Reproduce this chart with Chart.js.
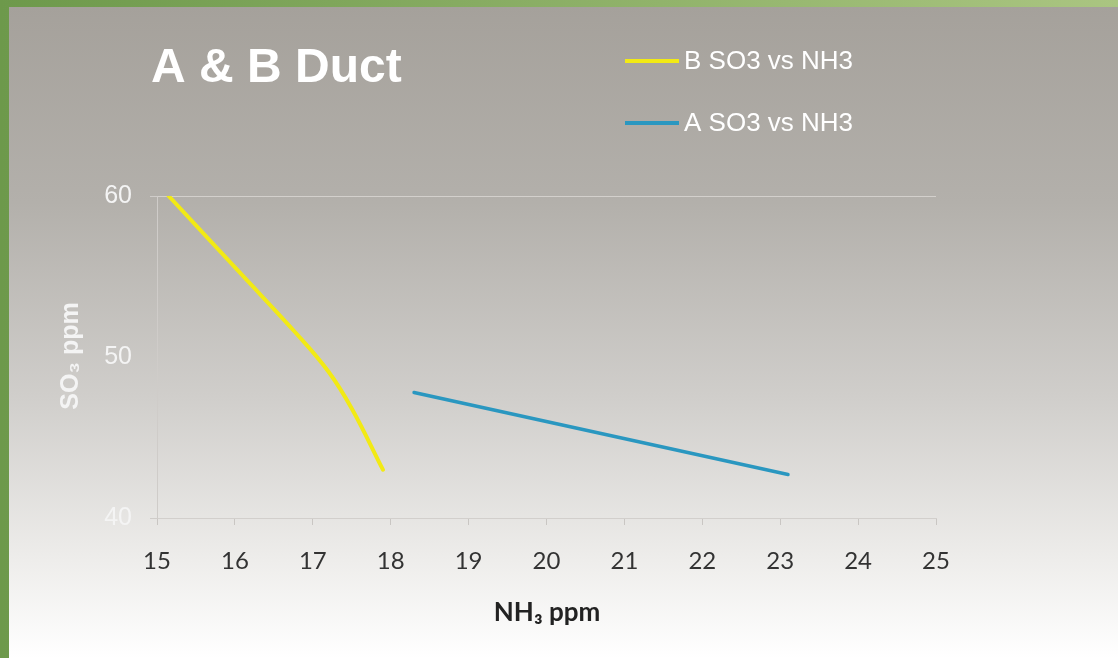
<!DOCTYPE html>
<html>
<head>
<meta charset="utf-8">
<script src="https://cdn.jsdelivr.net/npm/chart.js@4.4.1/dist/chart.umd.min.js"></script>
<style>
html,body{margin:0;padding:0;background:#fff;}
canvas{display:block;}
</style>
</head>
<body>
<canvas id="c" width="1118" height="658"></canvas>
<script>
const chartTitle = "A & B Duct";
const seriesB_label = "B SO3 vs NH3";
const seriesB_x = [15.15, 16.10, 16.80, 17.20, 17.50, 17.90];
const seriesB_y = [60.0, 55.05, 51.4, 49.1, 46.8, 43.0];
const seriesA_label = "A SO3 vs NH3";
const seriesA_x = [18.3, 23.1];
const seriesA_y = [47.8, 42.7];
const xTitle = "NH₃ ppm";
const yTitle = "SO₃ ppm";
const xMin = 15, xMax = 25, xStep = 1;
const yMin = 40, yMax = 60, yStep = 10;

const toPts = (xs, ys) => xs.map((x, i) => ({x: x, y: ys[i]}));

const decor = {
  id: 'decor',
  beforeDraw(chart) {
    const ctx = chart.ctx, W = chart.width, H = chart.height;
    ctx.save();
    let g = ctx.createLinearGradient(0, 0, W, 0);
    g.addColorStop(0, '#6d994b');
    g.addColorStop(1, '#aac581');
    ctx.fillStyle = g;
    ctx.fillRect(0, 0, W, H);
    let bg = ctx.createLinearGradient(0, 7, 0, H);
    bg.addColorStop(0, '#a5a19b');
    bg.addColorStop(0.3, '#b3b0ab');
    bg.addColorStop(0.6, '#d0cecb');
    bg.addColorStop(0.85, '#eeedeb');
    bg.addColorStop(1, '#ffffff');
    ctx.fillStyle = bg;
    ctx.fillRect(9, 7, W - 9, H - 7);
    ctx.restore();
  },
  afterDraw(chart) {
    const ctx = chart.ctx;
    ctx.save();
    ctx.fillStyle = '#ffffff';
    ctx.font = 'bold 48px "Liberation Sans", Arial, sans-serif';
    ctx.textBaseline = 'alphabetic';
    ctx.textAlign = 'left';
    ctx.fillText(chartTitle, 151, 82);
    const items = chart.data.datasets;
    const ys = [61, 123];
    items.forEach((ds, i) => {
      const y = ys[i];
      ctx.strokeStyle = ds.borderColor;
      ctx.lineWidth = 4;
      ctx.beginPath();
      ctx.moveTo(625, y);
      ctx.lineTo(679, y);
      ctx.stroke();
      ctx.fillStyle = '#ffffff';
      ctx.font = '26px "Liberation Sans", Arial, sans-serif';
      ctx.textBaseline = 'middle';
      ctx.fillText(ds.label, 684, y + 1);
    });
    ctx.fillStyle = '#222222';
    ctx.font = 'bold 26px Lato, "Liberation Sans", sans-serif';
    ctx.textAlign = 'center';
    ctx.textBaseline = 'alphabetic';
    ctx.fillText(xTitle, 547, 621);
    ctx.translate(78, 356);
    ctx.rotate(-Math.PI / 2);
    ctx.fillStyle = '#f4f4f4';
    ctx.font = 'bold 25px "Liberation Sans", Arial, sans-serif';
    ctx.textAlign = 'center';
    ctx.fillText(yTitle, 0, 0);
    ctx.restore();
  }
};

new Chart(document.getElementById('c'), {
  type: 'line',
  data: {
    datasets: [
      {
        label: seriesB_label,
        data: toPts(seriesB_x, seriesB_y),
        borderColor: '#f2ea14',
        borderWidth: 4,
        pointRadius: 0,
        tension: 0.4,
        borderCapStyle: 'round',
        fill: false
      },
      {
        label: seriesA_label,
        data: toPts(seriesA_x, seriesA_y),
        borderColor: '#2a97c0',
        borderWidth: 3.5,
        pointRadius: 0,
        borderCapStyle: 'round',
        fill: false
      }
    ]
  },
  options: {
    responsive: false,
    animation: false,
    devicePixelRatio: 1,
    layout: { padding: { top: 196, right: 182, left: 0, bottom: 0 } },
    plugins: { legend: { display: false }, title: { display: false }, tooltip: { enabled: false } },
    scales: {
      x: {
        type: 'linear',
        min: xMin, max: xMax,
        afterFit(s) { s.height = 140; },
        ticks: {
          stepSize: xStep,
          padding: 22,
          color: '#333333',
          font: { family: 'Lato, "Liberation Sans", sans-serif', size: 24 },
          maxRotation: 0
        },
        grid: { drawOnChartArea: false, drawTicks: true, tickLength: 7, tickColor: '#c9c6c3' },
        border: { display: true, color: '#d2cfcc', width: 1 }
      },
      y: {
        type: 'linear',
        min: yMin, max: yMax,
        afterFit(s) { s.width = 157; },
        ticks: {
          stepSize: yStep,
          padding: 18,
          color: '#f4f4f4',
          font: { family: '"Liberation Sans", Arial, sans-serif', size: 25 }
        },
        grid: {
          color: (c) => (c.tick && c.tick.value === 60) ? '#d3d0cc' : 'transparent',
          tickColor: (c) => (c.tick && c.tick.value === 50) ? 'transparent' : '#cfccc9',
          tickLength: 7,
          drawTicks: true
        },
        border: { display: true, color: '#cfccc9', width: 1 }
      }
    }
  },
  plugins: [decor]
});
</script>
</body>
</html>
